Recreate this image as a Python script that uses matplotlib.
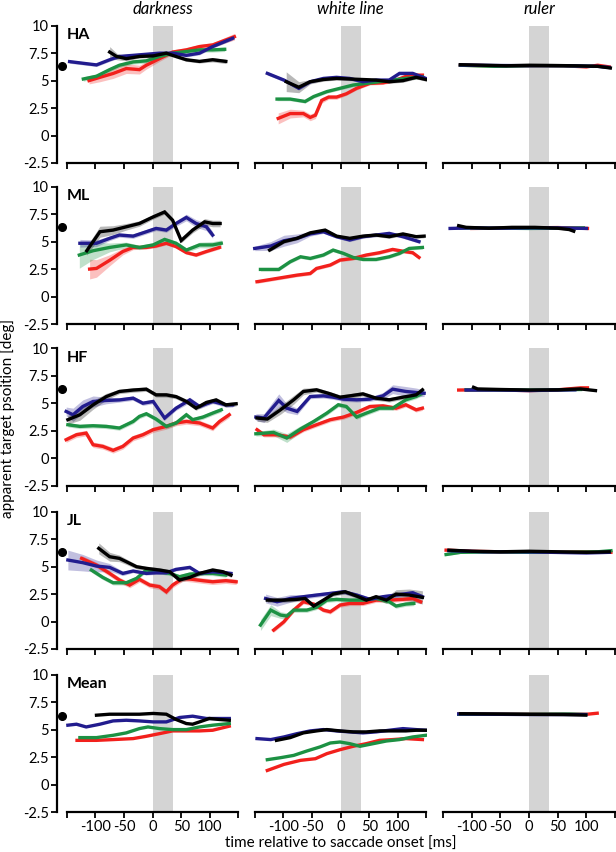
import matplotlib

matplotlib.use("Agg")

import matplotlib.pyplot as plt
import matplotlib.transforms as mtransforms
import numpy as np

# ---------------------------------------------------------------- data
ROWS = ["HA", "ML", "HF", "JL", "Mean"]
CONDITIONS = ["darkness", "white line", "ruler"]
X_TICKS = [-150, -100, -50, 0, 50, 100, 150]
X_TICK_LABELS = ["", "-100", "-50", "0", "50", "100", ""]
Y_TICKS = [-2.5, 0, 2.5, 5, 7.5, 10]
Y_TICK_LABELS = ["-2.5", "0", "2.5", "5", "7.5", "10"]
SACCADE_WINDOW = (0, 35)
TARGET_POSITION = 6.3

# each series: (time [ms], apparent position [deg], error half-width)
HA_DARKNESS = {
    "red": ([-111, -92, -69, -46, -23, -11, 12, 35, 59, 82, 105, 143],
            [5.0, 5.3, 5.65, 6.1, 6.0, 6.4, 7.0, 7.6, 7.8, 8.1, 8.25, 9.0],
            [0.3, 0.4, 0.45, 0.45, 0.4, 0.35, 0.25, 0.2, 0.2, 0.2, 0.2, 0.3]),
    "green": ([-121, -98, -75, -58, -34, -11, 12, 35, 59, 82, 105, 126],
              [5.15, 5.4, 6.0, 6.4, 6.7, 6.8, 7.2, 7.5, 7.65, 7.8, 7.8, 7.85],
              0.2),
    "blue": ([-145, -98, -75, -58, -34, -11, 12, 35, 59, 82, 105, 140],
             [6.73, 6.43, 6.9, 7.2, 7.3, 7.4, 7.5, 7.5, 7.3, 7.5, 8.1, 8.85],
             0.15),
    "black": ([-75, -63, -46, -23, 1, 24, 35, 59, 82, 105, 128],
              [7.6, 7.2, 7.0, 7.2, 7.25, 7.5, 7.3, 6.9, 6.75, 6.9, 6.75],
              [0.5, 0.3, 0.2, 0.15, 0.15, 0.15, 0.15, 0.15, 0.15, 0.2, 0.2]),
}
HA_WHITE = {
    "red": ([-109, -88, -65, -53, -44, -33, -21, -7, 10, 28, 51, 74, 97, 120, 143],
            [1.56, 2.0, 2.0, 1.65, 1.85, 3.2, 3.5, 3.5, 3.8, 4.3, 4.75, 4.8, 5.05, 5.5, 5.5],
            [0.5, 0.4, 0.3, 0.3, 0.3, 0.25, 0.2, 0.2, 0.15, 0.15, 0.15, 0.15, 0.15, 0.15, 0.15]),
    "green": ([-111, -88, -62, -47, -24, -1, 22, 45, 68, 91, 114, 143],
              [3.32, 3.32, 3.1, 3.55, 4.0, 4.3, 4.6, 4.75, 4.9, 5.05, 5.2, 5.35],
              0.15),
    "blue": ([-128, -99, -73, -53, -30, -7, 16, 39, 62, 85, 103, 126, 149],
             [5.66, 5.05, 4.3, 4.9, 5.2, 5.3, 5.2, 4.9, 5.05, 5.05, 5.66, 5.66, 5.2],
             0.15),
    "black": ([-95, -73, -53, -30, -7, 16, 39, 62, 85, 109, 132, 149],
              [4.9, 4.4, 4.9, 5.1, 5.2, 5.15, 5.1, 5.05, 4.9, 5.0, 5.3, 5.1],
              [0.9, 0.5, 0.2, 0.15, 0.15, 0.15, 0.15, 0.15, 0.15, 0.15, 0.15, 0.15]),
}
HA_RULER = {
    "red": ([-120, -60, 0, 60, 100, 120, 140], [6.4, 6.35, 6.35, 6.35, 6.25, 6.4, 6.25], 0.08),
    "green": ([-120, -60, 0, 60, 110], [6.4, 6.3, 6.35, 6.35, 6.3], 0.08),
    "blue": ([-120, -60, 0, 60, 120, 140], [6.42, 6.38, 6.36, 6.36, 6.3, 6.2], 0.08),
    "black": ([-120, -80, -40, 0, 40, 80, 120, 142], [6.45, 6.4, 6.35, 6.4, 6.38, 6.35, 6.3, 6.15], 0.08),
}

ML_DARKNESS = {
    "red": ([-110, -98, -75, -52, -34, -11, 6, 24, 41, 59, 76, 94, 117],
            [2.5, 2.56, 3.3, 4.1, 4.47, 4.47, 4.6, 4.85, 4.55, 4.0, 3.78, 4.1, 4.47],
            [0.9, 0.8, 0.5, 0.3, 0.2, 0.15, 0.15, 0.15, 0.15, 0.15, 0.15, 0.15, 0.15]),
    "green": ([-128, -104, -75, -46, -23, 1, 21, 41, 59, 82, 105, 120],
              [3.78, 4.17, 4.47, 4.7, 4.47, 4.7, 5.2, 4.85, 4.23, 4.7, 4.7, 4.85],
              [1.2, 0.8, 0.4, 0.25, 0.2, 0.2, 0.2, 0.2, 0.2, 0.25, 0.3, 0.3]),
    "blue": ([-127, -98, -75, -58, -34, -11, 6, 24, 41, 59, 76, 94, 105],
             [4.85, 4.85, 5.3, 5.6, 5.5, 5.9, 6.2, 6.05, 6.65, 7.2, 6.65, 6.35, 5.6],
             [0.35, 0.3, 0.2, 0.2, 0.2, 0.2, 0.2, 0.2, 0.25, 0.3, 0.35, 0.35, 0.3]),
    "black": ([-115, -92, -69, -46, -23, 1, 21, 35, 50, 70, 91, 105, 118],
              [4.17, 5.9, 6.05, 6.35, 6.65, 7.25, 7.7, 6.95, 5.1, 6.05, 6.8, 6.65, 6.65],
              [0.4, 0.5, 0.4, 0.3, 0.25, 0.2, 0.2, 0.2, 0.2, 0.25, 0.3, 0.3, 0.3]),
}
ML_WHITE = {
    "red": ([-146, -111, -76, -53, -42, -18, -1, 22, 45, 68, 91, 114, 126, 137],
            [1.35, 1.65, 1.95, 2.1, 2.56, 2.87, 3.32, 3.47, 3.78, 3.99, 4.29, 4.08, 3.99, 3.56],
            0.15),
    "green": ([-140, -108, -88, -70, -53, -30, -13, 5, 22, 39, 62, 85, 103, 120, 143],
              [2.47, 2.47, 3.17, 3.62, 3.47, 3.78, 4.23, 3.93, 3.56, 3.38, 3.38, 3.62, 3.93, 4.38, 4.47],
              0.15),
    "blue": ([-150, -122, -99, -76, -53, -30, -7, 16, 39, 62, 85, 109, 137],
             [4.38, 4.6, 5.08, 5.3, 5.7, 5.9, 5.45, 5.15, 5.45, 5.6, 5.75, 5.45, 5.0],
             [0.2, 0.4, 0.5, 0.4, 0.2, 0.15, 0.15, 0.15, 0.15, 0.15, 0.15, 0.15, 0.15]),
    "black": ([-124, -99, -76, -53, -27, -7, 16, 39, 62, 85, 109, 132, 146],
              [4.23, 5.0, 5.3, 5.8, 6.05, 5.5, 5.3, 5.5, 5.6, 5.45, 5.7, 5.45, 5.5],
              0.15),
}
ML_RULER = {
    "red": ([-100, 0, 50, 102], [6.2, 6.25, 6.28, 6.2], 0.08),
    "green": ([-120, 0, 60, 95], [6.25, 6.2, 6.22, 6.25], 0.08),
    "blue": ([-138, -100, -50, 0, 50, 100], [6.2, 6.25, 6.22, 6.25, 6.25, 6.2], 0.08),
    "black": ([-123, -110, -70, -30, 10, 50, 70, 78], [6.45, 6.3, 6.22, 6.3, 6.3, 6.22, 6.1, 5.95], 0.08),
}

HF_DARKNESS = {
    "red": ([-151, -133, -116, -104, -87, -69, -52, -34, -17, 1, 24, 41, 59, 82, 105, 117, 134],
            [1.68, 2.13, 2.28, 1.22, 1.07, 0.71, 1.07, 1.83, 2.13, 2.59, 2.89, 3.2, 3.34, 3.2, 2.74, 3.34, 3.95],
            0.25),
    "green": ([-148, -127, -104, -81, -58, -34, -23, -11, 6, 24, 41, 59, 70, 88, 105, 120],
              [3.04, 2.89, 2.95, 2.89, 2.74, 3.34, 3.8, 4.04, 3.56, 2.89, 3.2, 3.95, 3.5, 3.74, 4.1, 4.4],
              0.2),
    "blue": ([-151, -139, -122, -104, -81, -58, -34, -17, 1, 21, 41, 65, 82, 105, 128, 140],
             [4.25, 3.95, 4.7, 5.16, 5.25, 5.3, 5.46, 5.0, 5.16, 3.65, 4.55, 5.3, 4.7, 5.16, 4.85, 4.85],
             [0.4, 0.6, 0.6, 0.5, 0.3, 0.2, 0.2, 0.2, 0.2, 0.2, 0.2, 0.25, 0.2, 0.2, 0.2, 0.2]),
    "black": ([-148, -127, -104, -81, -58, -34, -11, 6, 24, 41, 59, 76, 94, 111, 128, 146],
              [3.5, 3.95, 4.85, 5.6, 6.07, 6.2, 6.28, 5.76, 5.76, 5.6, 5.16, 4.55, 5.07, 5.3, 4.85, 4.95],
              [0.4, 0.5, 0.4, 0.3, 0.2, 0.2, 0.2, 0.2, 0.2, 0.2, 0.2, 0.2, 0.2, 0.2, 0.2, 0.2]),
}
HF_WHITE = {
    "red": ([-146, -134, -111, -88, -65, -42, -18, 5, 28, 51, 74, 97, 114, 132, 143],
            [2.59, 2.13, 2.13, 1.92, 2.59, 3.04, 3.5, 3.74, 4.16, 4.7, 4.76, 4.55, 4.86, 4.4, 4.55],
            0.2),
    "green": ([-148, -117, -94, -70, -47, -24, -4, 10, 28, 45, 68, 91, 114, 132, 143],
              [2.22, 2.34, 1.83, 2.65, 3.34, 4.1, 4.86, 4.7, 3.74, 4.1, 4.55, 4.55, 5.31, 5.61, 5.91],
              [0.2, 0.3, 0.4, 0.3, 0.2, 0.2, 0.2, 0.2, 0.2, 0.2, 0.2, 0.2, 0.2, 0.2, 0.2]),
    "blue": ([-148, -134, -108, -94, -76, -53, -30, -13, 5, 28, 51, 74, 91, 114, 132, 146],
             [3.74, 3.65, 5.25, 4.55, 4.25, 5.61, 5.67, 5.55, 5.37, 5.31, 5.37, 5.67, 6.28, 6.07, 5.98, 5.91],
             [0.3, 0.4, 0.6, 0.4, 0.3, 0.2, 0.2, 0.2, 0.2, 0.2, 0.2, 0.3, 0.4, 0.45, 0.4, 0.3]),
    "black": ([-146, -128, -105, -82, -65, -42, -18, -1, 16, 39, 62, 85, 109, 132, 143],
              [3.65, 3.56, 4.4, 5.31, 6.07, 6.22, 5.85, 5.55, 5.67, 5.85, 5.46, 5.31, 5.55, 5.76, 6.22],
              [0.3, 0.3, 0.4, 0.4, 0.3, 0.2, 0.2, 0.2, 0.2, 0.2, 0.2, 0.2, 0.2, 0.2, 0.2]),
}
HF_RULER = {
    "red": ([-123, -100, -50, 0, 50, 90, 102], [6.2, 6.22, 6.2, 6.15, 6.22, 6.4, 6.4], 0.08),
    "green": ([-110, -50, 0, 50, 90], [6.22, 6.2, 6.2, 6.22, 6.25], 0.08),
    "blue": ([-110, -50, 0, 50, 80], [6.2, 6.2, 6.15, 6.2, 6.22], 0.08),
    "black": ([-97, -90, -50, 0, 50, 90, 116], [6.45, 6.3, 6.25, 6.2, 6.22, 6.3, 6.15], 0.08),
}

JL_DARKNESS = {
    "red": ([-124, -98, -75, -58, -40, -23, -5, 12, 24, 35, 53, 70, 88, 105, 128, 146],
            [5.75, 5.14, 4.38, 3.78, 3.32, 3.84, 3.32, 3.17, 2.71, 3.32, 3.93, 3.84, 3.72, 3.62, 3.72, 3.62],
            0.25),
    "green": ([-107, -87, -69, -46, -28, -11, 12, 30, 47, 65, 88, 105, 128],
              [4.69, 4.02, 3.53, 3.53, 3.93, 4.69, 4.53, 4.38, 4.08, 4.32, 4.38, 4.38, 4.23],
              0.2),
    "blue": ([-148, -122, -98, -75, -52, -34, -11, 6, 24, 41, 65, 82, 105, 128, 137],
             [5.6, 5.36, 5.05, 4.93, 4.38, 4.6, 4.38, 4.44, 4.44, 4.75, 4.93, 4.38, 4.53, 4.44, 4.38],
             [0.9, 0.75, 0.55, 0.35, 0.2, 0.15, 0.15, 0.15, 0.15, 0.15, 0.15, 0.15, 0.15, 0.15, 0.15]),
    "black": ([-94, -75, -58, -46, -28, -11, 12, 30, 47, 65, 82, 105, 123, 137],
              [6.66, 5.9, 5.75, 5.45, 4.99, 4.84, 4.69, 4.53, 3.78, 4.02, 4.38, 4.69, 4.53, 4.23],
              [0.5, 0.4, 0.3, 0.25, 0.2, 0.2, 0.2, 0.2, 0.2, 0.2, 0.2, 0.2, 0.2, 0.2]),
}
JL_WHITE = {
    "red": ([-117, -99, -82, -65, -47, -30, -18, -1, 16, 39, 62, 85, 109, 126, 140],
            [-0.78, -0.02, 1.04, 1.8, 1.59, 1.04, 0.89, 1.5, 1.65, 1.65, 1.95, 1.95, 2.02, 2.1, 1.8],
            0.2),
    "green": ([-140, -122, -105, -94, -82, -59, -42, -24, -7, 16, 39, 62, 85, 97, 114, 128],
              [-0.32, 1.04, 0.59, 0.5, 1.04, 1.04, 1.29, 1.95, 2.02, 1.95, 1.95, 2.1, 1.8, 1.41, 1.59, 1.65],
              [0.5, 0.5, 0.3, 0.3, 0.2, 0.2, 0.2, 0.2, 0.2, 0.2, 0.2, 0.2, 0.2, 0.2, 0.2, 0.2]),
    "blue": ([-131, -111, -88, -65, -42, -18, 5, 28, 51, 74, 97, 126, 143],
             [2.1, 1.8, 2.1, 2.26, 2.41, 2.56, 2.71, 2.41, 2.02, 2.26, 2.41, 2.62, 2.26],
             [0.4, 0.4, 0.35, 0.2, 0.2, 0.2, 0.2, 0.2, 0.2, 0.2, 0.2, 0.2, 0.2]),
    "black": ([-128, -99, -76, -62, -47, -30, -13, 8, 28, 45, 62, 80, 97, 120, 143],
              [1.95, 1.95, 2.02, 2.1, 1.41, 1.95, 2.5, 2.71, 2.32, 1.95, 2.26, 1.95, 2.5, 2.41, 2.2],
              [0.2, 0.2, 0.2, 0.2, 0.2, 0.2, 0.2, 0.2, 0.2, 0.2, 0.2, 0.3, 0.4, 0.55, 0.6]),
}
JL_RULER = {
    "red": ([-145, -100, -50, 0, 50, 100, 143], [6.5, 6.4, 6.35, 6.35, 6.3, 6.35, 6.3], 0.1),
    "green": ([-145, -120, -60, 0, 60, 120, 143], [6.1, 6.3, 6.35, 6.3, 6.3, 6.35, 6.45], 0.1),
    "blue": ([-140, -80, -20, 40, 100, 140], [6.45, 6.35, 6.35, 6.3, 6.25, 6.3], 0.1),
    "black": ([-140, -100, -50, 0, 50, 100, 140], [6.5, 6.4, 6.35, 6.4, 6.35, 6.3, 6.35], 0.1),
}

MEAN_DARKNESS = {
    "red": ([-132, -98, -69, -34, -11, 12, 35, 59, 82, 105, 134],
            [4.05, 4.05, 4.12, 4.21, 4.42, 4.66, 4.91, 4.91, 4.91, 4.97, 5.34], 0.0),
    "green": ([-127, -98, -69, -46, -23, -8, 12, 35, 59, 82, 105, 134],
              [4.3, 4.3, 4.51, 4.73, 5.12, 5.27, 5.12, 5.03, 5.03, 5.27, 5.43, 5.58], 0.0),
    "blue": ([-148, -133, -116, -92, -69, -46, -23, 1, 24, 47, 70, 94, 117, 134],
             [5.43, 5.52, 5.27, 5.52, 5.82, 5.88, 5.82, 5.73, 5.73, 6.13, 6.25, 6.04, 6.04, 6.04], 0.0),
    "black": ([-98, -75, -46, -23, 1, 24, 41, 59, 70, 82, 99, 117, 134],
              [6.34, 6.43, 6.43, 6.43, 6.5, 6.43, 5.95, 5.58, 5.52, 5.73, 6.04, 5.95, 5.88], 0.0),
}
MEAN_WHITE = {
    "red": ([-128, -99, -70, -44, -24, -1, 22, 45, 68, 91, 114, 143],
            [1.31, 1.86, 2.23, 2.38, 2.84, 3.2, 3.51, 3.75, 4.05, 4.12, 4.21, 4.12], 0.0),
    "green": ([-128, -105, -82, -59, -36, -18, -1, 16, 34, 57, 80, 103, 126, 149],
              [2.29, 2.47, 2.68, 3.08, 3.45, 3.81, 3.9, 3.75, 3.51, 3.75, 3.99, 4.12, 4.36, 4.51], 0.0),
    "blue": ([-146, -122, -99, -76, -53, -30, -7, 16, 39, 62, 85, 109, 132, 149],
             [4.21, 4.12, 4.36, 4.66, 4.91, 5.03, 4.91, 4.82, 4.73, 4.82, 4.97, 5.12, 5.03, 4.97], 0.0),
    "black": ([-112, -88, -65, -42, -24, -1, 22, 45, 68, 91, 114, 132, 149],
              [4.05, 4.3, 4.73, 4.91, 5.03, 4.91, 4.82, 4.82, 4.91, 4.91, 4.91, 4.97, 4.97], 0.0),
}
MEAN_RULER = {
    "red": ([-123, 0, 100, 119], [6.45, 6.42, 6.42, 6.52], 0.0),
    "green": ([-123, 0, 70, 99], [6.42, 6.42, 6.45, 6.4], 0.0),
    "blue": ([-123, 0, 99], [6.45, 6.4, 6.4], 0.0),
    "black": ([-120, -60, 0, 60, 99], [6.48, 6.45, 6.42, 6.4, 6.35], 0.0),
}

PANELS = [
    [HA_DARKNESS, HA_WHITE, HA_RULER],
    [ML_DARKNESS, ML_WHITE, ML_RULER],
    [HF_DARKNESS, HF_WHITE, HF_RULER],
    [JL_DARKNESS, JL_WHITE, JL_RULER],
    [MEAN_DARKNESS, MEAN_WHITE, MEAN_RULER],
]

# ---------------------------------------------------------------- style
COLORS = {"red": "#f2201c", "green": "#1c9143", "blue": "#221c8e", "black": "#000000"}
DRAW_ORDER = ["red", "green", "blue", "black"]
FONT = "Lato"

W, H = 616, 852
COL_LEFT = [57, 245, 433.5]
ROW_TOP = [25.7, 186.7, 348.3, 511.7, 675]
AX_W, AX_H = 182, 137.3

plt.rcParams["font.family"] = FONT
fig = plt.figure(figsize=(W / 100, H / 100), dpi=100)
fig.patch.set_facecolor("white")

for r, row_name in enumerate(ROWS):
    for c, cond in enumerate(CONDITIONS):
        ax = fig.add_axes([COL_LEFT[c] / W, 1 - (ROW_TOP[r] + AX_H) / H, AX_W / W, AX_H / H])
        ax.set_xlim(-167, 151)
        ax.set_ylim(-2.5, 10)
        ax.axvspan(*SACCADE_WINDOW, color="#d4d4d4", lw=0, zorder=1)

        panel = PANELS[r][c]
        for key in DRAW_ORDER:
            t, v, e = panel[key]
            t = np.asarray(t, dtype=float)
            v = np.asarray(v, dtype=float)
            e = np.broadcast_to(np.asarray(e, dtype=float), v.shape)
            if e.max() > 0:
                ax.fill_between(t, v - e, v + e, color=COLORS[key], alpha=0.28, lw=0, zorder=2)
        for key in DRAW_ORDER:
            t, v, e = panel[key]
            ax.plot(t, v, color=COLORS[key], lw=2.4, solid_joinstyle="miter", zorder=3)

        for side in ["top", "right"]:
            ax.spines[side].set_visible(False)
        ax.spines["bottom"].set_bounds(-150, 150)
        ax.spines["bottom"].set_linewidth(1.6)
        ax.set_xticks(X_TICKS)
        ax.tick_params(axis="x", direction="out", length=4, width=1.3, pad=1.5, labelsize=10.5)
        if r == len(ROWS) - 1:
            ax.set_xticklabels(X_TICK_LABELS)
        else:
            ax.set_xticklabels([])

        if c == 0:
            ax.spines["left"].set_linewidth(1.6)
            ax.set_yticks(Y_TICKS)
            ax.set_yticklabels(Y_TICK_LABELS)
            ax.tick_params(axis="y", direction="out", length=4, width=1.3, pad=2, labelsize=10.5)
            ax.text(-150, 9.15, row_name, fontsize=11.5, fontweight="bold", va="center", ha="left")
            trans = mtransforms.blended_transform_factory(ax.transAxes, ax.transData)
            ax.plot([0.025], [TARGET_POSITION], "o", color="black", ms=5.5,
                    transform=trans, clip_on=False, zorder=4)
        else:
            ax.spines["left"].set_visible(False)
            ax.set_yticks([])

        if r == 0:
            ax.text(17.5, 10.75, cond, fontsize=12, style="italic", ha="center", va="bottom")

fig.text(8 / W, 1 - 418 / H, "apparent target psoition [deg]", rotation=90,
         ha="center", va="center", fontsize=11)
fig.text(341 / W, 1 - 843.5 / H, "time relative to saccade onset [ms]",
         ha="center", va="center", fontsize=11)

fig.savefig("out.png", dpi=100, facecolor="white")
plt.close(fig)
